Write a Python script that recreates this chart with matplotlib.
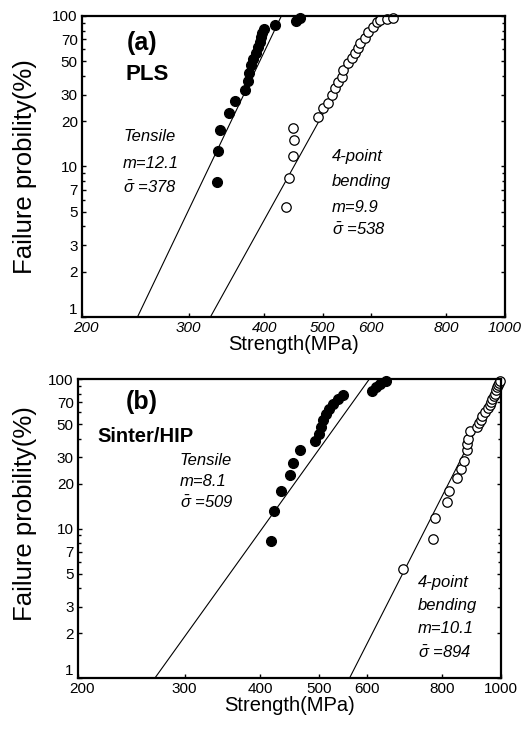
import matplotlib
matplotlib.use("Agg")
import matplotlib.pyplot as plt
import matplotlib.transforms as mtransforms
from matplotlib.ticker import FixedLocator, NullFormatter, NullLocator

plt.rcParams["font.family"] = ["Liberation Sans", "DejaVu Sans"]
plt.rcParams["mathtext.fontset"] = "custom"
plt.rcParams["mathtext.it"] = "Liberation Sans:italic"
plt.rcParams["mathtext.rm"] = "Liberation Sans"

# --- (a) PLS ---
pls_tensile_strength = [334, 335, 338, 350, 358, 372, 376, 378, 381, 384, 387,
                        390, 393, 395, 397, 400, 417, 452, 458]
pls_tensile_prob = [7.9, 12.7, 17.5, 22.7, 27.2, 32.2, 37, 42, 47, 52, 57,
                    62, 67, 72, 77, 82, 87, 92, 97]
pls_bend_strength = [434, 439, 446, 448, 446, 491, 500, 510, 518, 524, 529,
                     538, 540, 550, 558, 565, 572, 576, 588, 594, 606, 615,
                     621, 638, 653]
pls_bend_prob = [5.4, 8.4, 11.7, 15.0, 18.0, 21.3, 24.5, 26.4, 29.9, 33.2,
                 36.4, 39.3, 43.8, 48.7, 52.6, 56.8, 61.3, 66.2, 71.4, 78.3,
                 84.5, 91.2, 94, 95, 97]
pls_tensile_fit_s = [247, 427]
pls_tensile_fit_p = [1, 100]
pls_bend_fit_s = [326, 615]
pls_bend_fit_p = [1, 100]

# --- (b) Sinter/HIP ---
sh_tensile_strength = [417, 422, 433, 448, 453, 466, 492, 500, 504, 507, 513,
                       519, 528, 538, 549, 612, 622, 632, 645]
sh_tensile_prob = [8.2, 13.1, 17.9, 22.9, 27.6, 33.3, 38.2, 43, 48, 53, 58,
                   63, 68, 73, 78, 83, 88, 93, 97]
sh_bend_strength = [689, 772, 779, 814, 821, 846, 859, 869, 879, 880, 882,
                    889, 912, 920, 925, 930, 942, 952, 958, 962, 966, 972,
                    978, 982, 986, 989, 993, 997]
sh_bend_prob = [5.4, 8.5, 11.8, 15.1, 17.9, 21.9, 25.2, 28.5, 33.3, 37, 40,
                44.7, 48, 50.6, 53, 56.3, 60, 63.8, 67, 70, 73.3, 77, 80,
                84.3, 88, 91, 94, 97]
sh_tensile_fit_s = [268, 606]
sh_tensile_fit_p = [1, 100]
sh_bend_fit_s = [562, 1000]
sh_bend_fit_p = [1, 98]

x_ticks = [200, 300, 400, 500, 600, 800, 1000]
y_ticks = [1, 2, 3, 5, 7, 10, 20, 30, 50, 70, 100]
y_minor = [4, 6, 8, 9, 40, 60, 80, 90]


def setup_axes(fig, ax, italic_xticks=False, ylabel_y=0.5, ylabel_x=-0.106):
    ax.set_xscale("log")
    ax.set_yscale("log")
    ax.set_xlim(200, 1000)
    ax.set_ylim(1, 100)
    ax.xaxis.set_major_locator(FixedLocator(x_ticks))
    ax.xaxis.set_minor_locator(NullLocator())
    ax.set_xticklabels([str(t) for t in x_ticks],
                       style="italic" if italic_xticks else "normal")
    ax.yaxis.set_major_locator(FixedLocator(y_ticks))
    ax.yaxis.set_minor_locator(FixedLocator(y_minor))
    ax.yaxis.set_minor_formatter(NullFormatter())
    ax.set_yticklabels([str(t) for t in y_ticks])
    ax.tick_params(which="both", direction="in", length=3, width=1,
                   labelsize=11, right=True)
    ax.tick_params(which="minor", length=2)
    ax.tick_params(axis="x", pad=3)
    ax.tick_params(axis="y", pad=3)
    for sp in ax.spines.values():
        sp.set_linewidth(1.6)
    ax.set_xlabel("Strength(MPa)", fontsize=14.5, labelpad=0)
    ax.set_ylabel("Failure probility(%)", fontsize=18.5)
    ax.yaxis.set_label_coords(ylabel_x, ylabel_y)

    # corner labels: "1" sits a bit higher, "200" a bit to the right
    ax.get_yticklabels()[0].set_verticalalignment("bottom")
    lab = ax.get_xticklabels()[0]
    lab.set_transform(lab.get_transform() +
                      mtransforms.ScaledTranslation(4 / 100, 0, fig.dpi_scale_trans))


def note(ax, x, y, s, size=12, **kw):
    ax.text(x, y, s, transform=ax.transAxes, fontsize=size, va="center", **kw)


fig = plt.figure(figsize=(5.21, 7.30), dpi=100)

# Panel (a)
ax1 = fig.add_axes([0.1574, 0.5658, 0.812, 0.4123])
ax1.plot(pls_tensile_fit_s, pls_tensile_fit_p, color="black", lw=0.8)
ax1.plot(pls_bend_fit_s, pls_bend_fit_p, color="black", lw=0.8)
ax1.plot(pls_tensile_strength, pls_tensile_prob, "o", color="black",
         markersize=7, clip_on=False)
ax1.plot(pls_bend_strength, pls_bend_prob, "o", markerfacecolor="white",
         markeredgecolor="black", markeredgewidth=0.9, markersize=6.8,
         clip_on=False)
setup_axes(fig, ax1, italic_xticks=True)

note(ax1, 0.105, 0.91, "(a)", size=18, fontweight="bold")
note(ax1, 0.102, 0.804, "PLS", size=16, fontweight="bold")
note(ax1, 0.097, 0.598, "Tensile", style="italic")
note(ax1, 0.097, 0.511, "m=12.1", style="italic")
note(ax1, 0.097, 0.43, r"$\bar{\sigma}$ =378", style="italic")
note(ax1, 0.591, 0.532, "4-point", style="italic")
note(ax1, 0.591, 0.449, "bending", style="italic")
note(ax1, 0.591, 0.365, "m=9.9", style="italic")
note(ax1, 0.591, 0.289, r"$\bar{\sigma}$ =538", style="italic")

# Panel (b)
ax2 = fig.add_axes([0.1497, 0.0712, 0.812, 0.4096])
ax2.plot(sh_tensile_fit_s, sh_tensile_fit_p, color="black", lw=0.8)
ax2.plot(sh_bend_fit_s, sh_bend_fit_p, color="black", lw=0.8)
ax2.plot(sh_tensile_strength, sh_tensile_prob, "o", color="black",
         markersize=7, clip_on=False)
ax2.plot(sh_bend_strength, sh_bend_prob, "o", markerfacecolor="white",
         markeredgecolor="black", markeredgewidth=0.9, markersize=6.8,
         clip_on=False)
setup_axes(fig, ax2, ylabel_y=0.55, ylabel_x=-0.097)

note(ax2, 0.114, 0.923, "(b)", size=18, fontweight="bold")
note(ax2, 0.045, 0.809, "Sinter/HIP", size=14.5, fontweight="bold")
note(ax2, 0.241, 0.729, "Tensile", style="italic")
note(ax2, 0.241, 0.656, "m=8.1", style="italic")
note(ax2, 0.241, 0.585, r"$\bar{\sigma}$ =509", style="italic")
note(ax2, 0.804, 0.321, "4-point", style="italic")
note(ax2, 0.804, 0.244, "bending", style="italic")
note(ax2, 0.804, 0.167, "m=10.1", style="italic")
note(ax2, 0.804, 0.084, r"$\bar{\sigma}$ =894", style="italic")

fig.savefig("out.png", dpi=100)
